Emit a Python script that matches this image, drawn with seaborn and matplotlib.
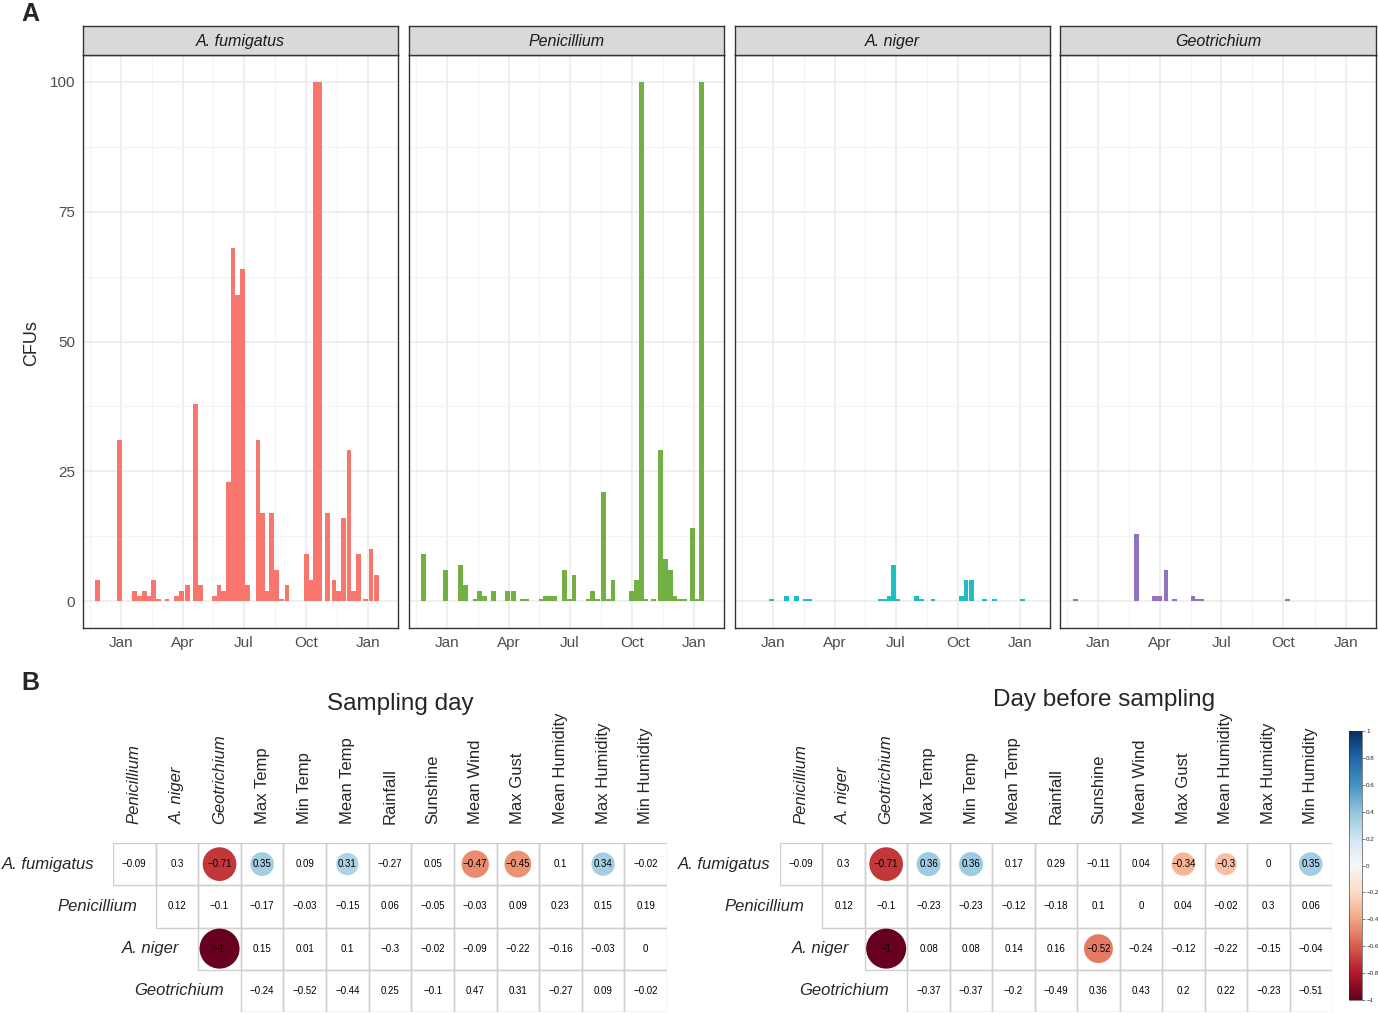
import numpy as np
import pandas as pd
import matplotlib
matplotlib.use("Agg")
import matplotlib.pyplot as plt
import matplotlib.dates as mdates
from matplotlib.colors import ListedColormap, Normalize
from matplotlib.cm import ScalarMappable
from matplotlib.patches import Rectangle
import seaborn as sns

# ---------------- data: panel A (CFUs per sampling date) ----------------
species = ["A. fumigatus", "Penicillium", "A. niger", "Geotrichium"]

fum_dates = ["2015-11-27", "2015-12-29", "2016-01-21", "2016-01-28", "2016-02-04",
             "2016-02-11", "2016-02-18", "2016-02-25", "2016-03-09", "2016-03-23",
             "2016-03-30", "2016-04-08", "2016-04-20", "2016-04-28", "2016-05-18",
             "2016-05-25", "2016-06-01", "2016-06-08", "2016-06-15", "2016-06-22",
             "2016-06-29", "2016-07-06", "2016-07-22", "2016-07-29", "2016-08-04",
             "2016-08-11", "2016-08-19", "2016-08-26", "2016-09-03", "2016-10-02",
             "2016-10-08", "2016-10-15", "2016-10-22", "2016-11-02", "2016-11-12",
             "2016-11-19", "2016-11-26", "2016-12-04", "2016-12-11", "2016-12-18",
             "2016-12-29", "2017-01-06", "2017-01-14"]
fum_cfu = [4, 31, 2, 1, 2, 1, 4, 0.3, 0.3, 1, 2, 3, 38, 3, 1, 3, 2, 23, 68, 59,
           64, 3, 31, 17, 2, 17, 6, 0.3, 3, 9, 4, 100, 100, 17, 4, 2, 16, 29, 2, 9,
           0.3, 10, 5]

pen_dates = ["2015-11-27", "2015-12-29", "2016-01-21", "2016-01-28", "2016-02-11",
             "2016-02-18", "2016-02-25", "2016-03-10", "2016-03-30", "2016-04-08",
             "2016-04-22", "2016-04-28", "2016-05-19", "2016-05-26", "2016-06-02",
             "2016-06-09", "2016-06-23", "2016-06-30", "2016-07-07", "2016-07-29",
             "2016-08-04", "2016-08-11", "2016-08-20", "2016-08-27", "2016-09-03",
             "2016-10-01", "2016-10-08", "2016-10-15", "2016-10-22", "2016-11-02",
             "2016-11-13", "2016-11-20", "2016-11-27", "2016-12-04", "2016-12-11",
             "2016-12-18", "2016-12-30", "2017-01-06", "2017-01-13"]
pen_cfu = [9, 6, 7, 3, 0.3, 2, 1, 2, 2, 2, 0.3, 0.3, 0.3, 1, 1, 1, 6, 0.3, 5,
           0.3, 2, 0.3, 21, 0.3, 4, 2, 4, 100, 0.3, 0.3, 29, 8, 6, 1, 0.3, 0.3,
           14, 0.3, 100]

nig_dates = ["2015-12-29", "2016-01-20", "2016-02-04", "2016-02-18", "2016-02-24",
             "2016-06-08", "2016-06-15", "2016-06-21", "2016-06-28", "2016-07-04",
             "2016-08-01", "2016-08-08", "2016-08-25", "2016-10-06", "2016-10-13",
             "2016-10-21", "2016-11-10", "2016-11-25", "2017-01-05"]
nig_cfu = [0.3, 1, 1, 0.3, 0.3, 0.3, 0.3, 1, 7, 0.3, 1, 0.3, 0.3, 1, 4, 4, 0.3,
           0.3, 0.3]

geo_dates = ["2015-11-28", "2016-02-26", "2016-03-24", "2016-03-31", "2016-04-10",
             "2016-04-23", "2016-05-20", "2016-05-27", "2016-06-02", "2016-10-07"]
geo_cfu = [0.3, 13, 1, 1, 6, 0.3, 1, 0.3, 0.3, 0.3]

# ---------------- data: panel B (correlations) ----------------
col_labels = ["Penicillium", "A. niger", "Geotrichium", "Max Temp", "Min Temp",
              "Mean Temp", "Rainfall", "Sunshine", "Mean Wind", "Max Gust",
              "Mean Humidity", "Max Humidity", "Min Humidity"]
row_labels = ["A. fumigatus", "Penicillium", "A. niger", "Geotrichium"]
nan = np.nan

same_day = [
    [-0.09, 0.3, -0.71, 0.35, 0.09, 0.31, -0.27, 0.05, -0.47, -0.45, 0.1, 0.34, -0.02],
    [nan, 0.12, -0.1, -0.17, -0.03, -0.15, 0.06, -0.05, -0.03, 0.09, 0.23, 0.15, 0.19],
    [nan, nan, -1, 0.15, 0.01, 0.1, -0.3, -0.02, -0.09, -0.22, -0.16, -0.03, 0],
    [nan, nan, nan, -0.24, -0.52, -0.44, 0.25, -0.1, 0.47, 0.31, -0.27, 0.09, -0.02],
]
same_day_sig = [
    [0, 0, 1, 1, 0, 1, 0, 0, 1, 1, 0, 1, 0],
    [0, 0, 0, 0, 0, 0, 0, 0, 0, 0, 0, 0, 0],
    [0, 0, 1, 0, 0, 0, 0, 0, 0, 0, 0, 0, 0],
    [0, 0, 0, 0, 0, 0, 0, 0, 0, 0, 0, 0, 0],
]
day_before = [
    [-0.09, 0.3, -0.71, 0.36, 0.36, 0.17, 0.29, -0.11, 0.04, -0.34, -0.3, 0, 0.35],
    [nan, 0.12, -0.1, -0.23, -0.23, -0.12, -0.18, 0.1, 0, 0.04, -0.02, 0.3, 0.06],
    [nan, nan, -1, 0.08, 0.08, 0.14, 0.16, -0.52, -0.24, -0.12, -0.22, -0.15, -0.04],
    [nan, nan, nan, -0.37, -0.37, -0.2, -0.49, 0.36, 0.43, 0.2, 0.22, -0.23, -0.51],
]
day_before_sig = [
    [0, 0, 1, 1, 1, 0, 0, 0, 0, 1, 1, 0, 1],
    [0, 0, 0, 0, 0, 0, 0, 0, 0, 0, 0, 0, 0],
    [0, 0, 1, 0, 0, 0, 0, 1, 0, 0, 0, 0, 0],
    [0, 0, 0, 0, 0, 0, 0, 0, 0, 0, 0, 0, 0],
]

# ---------------- styling ----------------
sns.set_style("white")
plt.rcParams["font.family"] = ["Liberation Sans", "DejaVu Sans"]

W, H = 1378, 1014
fig = plt.figure(figsize=(W / 100, H / 100), dpi=100)


def px_box(x0, y0, x1, y1):
    # pixel box (top-left origin) -> figure fraction rect
    return [x0 / W, 1 - y1 / H, (x1 - x0) / W, (y1 - y0) / H]


# ---------------- panel A ----------------
bar_colors = ["#F8766D", "#72B043", "#1EBEC3", "#9372C0"]
all_dates = [fum_dates, pen_dates, nig_dates, geo_dates]
all_cfu = [fum_cfu, pen_cfu, nig_cfu, geo_cfu]
panel_x = [(83, 398), (409, 724), (735, 1050), (1060, 1376)]

major = pd.to_datetime(["2016-01-01", "2016-04-01", "2016-07-01", "2016-10-01", "2017-01-01"])
edges = pd.to_datetime(["2015-10-01"]).append(major).append(pd.to_datetime(["2017-04-01"]))
e_num = mdates.date2num(edges)
minor = (e_num[:-1] + e_num[1:]) / 2
xlim = mdates.date2num(pd.to_datetime(["2015-11-05", "2017-02-06"]))

for k, name in enumerate(species):
    x0, x1 = panel_x[k]
    ax = fig.add_axes(px_box(x0, 55, x1, 628))
    d = mdates.date2num(pd.to_datetime(all_dates[k]))
    ax.bar(d, all_cfu[k], width=7, color=bar_colors[k], linewidth=0, zorder=2)
    ax.set_xlim(*xlim)
    ax.set_ylim(-5.2, 105.2)
    ax.set_xticks(mdates.date2num(major))
    ax.set_xticklabels(["Jan", "Apr", "Jul", "Oct", "Jan"])
    ax.set_xticks(minor, minor=True)
    ax.set_yticks([0, 25, 50, 75, 100])
    ax.set_yticks([12.5, 37.5, 62.5, 87.5], minor=True)
    ax.grid(which="major", color="#EBEBEB", linewidth=1.1, zorder=0)
    ax.grid(which="minor", color="#F3F3F3", linewidth=0.8, zorder=0)
    ax.set_axisbelow(True)
    for s in ax.spines.values():
        s.set_color("#333333")
        s.set_linewidth(1.0)
    ax.tick_params(axis="x", which="major", direction="out", length=3, width=0.8,
                   color="#333333", labelcolor="#4D4D4D", labelsize=11, pad=3)
    ax.tick_params(which="minor", length=0)
    if k == 0:
        ax.tick_params(axis="y", which="major", direction="out", length=3, width=0.8,
                       color="#333333", labelcolor="#4D4D4D", labelsize=11, pad=2.5)
    else:
        ax.tick_params(axis="y", which="major", length=0, labelleft=False)

    sax = fig.add_axes(px_box(x0, 26, x1, 55))
    sax.set_facecolor("#D9D9D9")
    sax.set_xticks([])
    sax.set_yticks([])
    for s in sax.spines.values():
        s.set_color("#333333")
        s.set_linewidth(1.0)
    sax.text(0.5, 0.47, name, transform=sax.transAxes, ha="center", va="center",
             fontsize=11.5, style="italic", color="#1A1A1A")

fig.text(32 / W, 1 - 343 / H, "CFUs", rotation=90, ha="center", va="center", fontsize=13)
fig.text(30 / W, 1 - 14 / H, "A", ha="center", va="center", fontsize=18, weight="bold")
fig.text(30 / W, 1 - 683 / H, "B", ha="center", va="center", fontsize=18, weight="bold")

# ---------------- panel B ----------------
def fmt(v):
    if np.isnan(v):
        return ""
    return f"{v + 0.0:g}".replace("-", "\u2212")


def corr_panel(box, values, sig, title, title_xy, row_pad):
    ax = fig.add_axes(px_box(*box))
    df = pd.DataFrame(values, index=row_labels, columns=col_labels)
    labels = np.array([[fmt(v) for v in row] for row in values])
    sns.heatmap(df, mask=df.isna(), cmap=ListedColormap(["white"]), cbar=False,
                linewidths=0, annot=labels, fmt="",
                annot_kws={"size": 7, "color": "black"},
                xticklabels=False, yticklabels=False, ax=ax)
    # cell borders only where there is a value
    for i in range(len(row_labels)):
        for j in range(len(col_labels)):
            if not np.isnan(values[i][j]):
                ax.add_patch(Rectangle((j, i), 1, 1, facecolor="none",
                                       edgecolor="#CFCFCF", linewidth=1.0, zorder=1.5))
    long = df.stack().reset_index()
    long.columns = ["row", "col", "r"]
    long["x"] = [col_labels.index(c) + 0.5 for c in long["col"]]
    long["y"] = [row_labels.index(r) + 0.5 for r in long["row"]]
    long["sig"] = [sig[row_labels.index(r)][col_labels.index(c)]
                   for r, c in zip(long["row"], long["col"])]
    long["absr"] = long["r"].abs()
    circ = long[long["sig"] == 1]
    sns.scatterplot(data=circ, x="x", y="y", hue="r", palette="RdBu", hue_norm=(-1, 1),
                    size="absr", sizes=(0, 830), size_norm=(0, 1), legend=False,
                    edgecolor="none", linewidth=0, zorder=2, ax=ax)
    ax.set_xlim(0, len(col_labels))
    ax.set_ylim(len(row_labels), 0)
    ax.set_xlabel("")
    ax.set_ylabel("")
    for j, c in enumerate(col_labels):
        ax.annotate(c, xy=(j + 0.5, 0), xytext=(0, 14), textcoords="offset points",
                    rotation=90, ha="center", va="bottom", fontsize=12,
                    style="italic" if j < 3 else "normal", annotation_clip=False)
    for i, r in enumerate(row_labels):
        ax.annotate(r, xy=(i, i + 0.5), xytext=(-row_pad[i], 0), textcoords="offset points",
                    ha="right", va="center", fontsize=12, style="italic",
                    annotation_clip=False)
    fig.text(title_xy[0] / W, 1 - title_xy[1] / H, title, ha="center", va="center",
             fontsize=17.5)


corr_panel((113, 843, 667, 1012), same_day, same_day_sig, "Sampling day", (400, 704),
           [13, 13, 14, 12])
corr_panel((780, 843, 1332, 1012), day_before, day_before_sig, "Day before sampling",
           (1104, 700), [7, 13, 11, 13])

cax = fig.add_axes(px_box(1349, 731, 1362, 1000))
cb_ticks = np.round(np.arange(-1, 1.01, 0.2), 1) + 0.0
cb = fig.colorbar(ScalarMappable(norm=Normalize(-1, 1), cmap="RdBu"), cax=cax,
                  ticks=cb_ticks)
cb.ax.set_yticklabels([fmt(t) for t in cb_ticks])
cb.ax.tick_params(labelsize=4.5, length=2, width=0.4, pad=1)
cb.outline.set_linewidth(0.4)

fig.savefig("out.png", dpi=100)
